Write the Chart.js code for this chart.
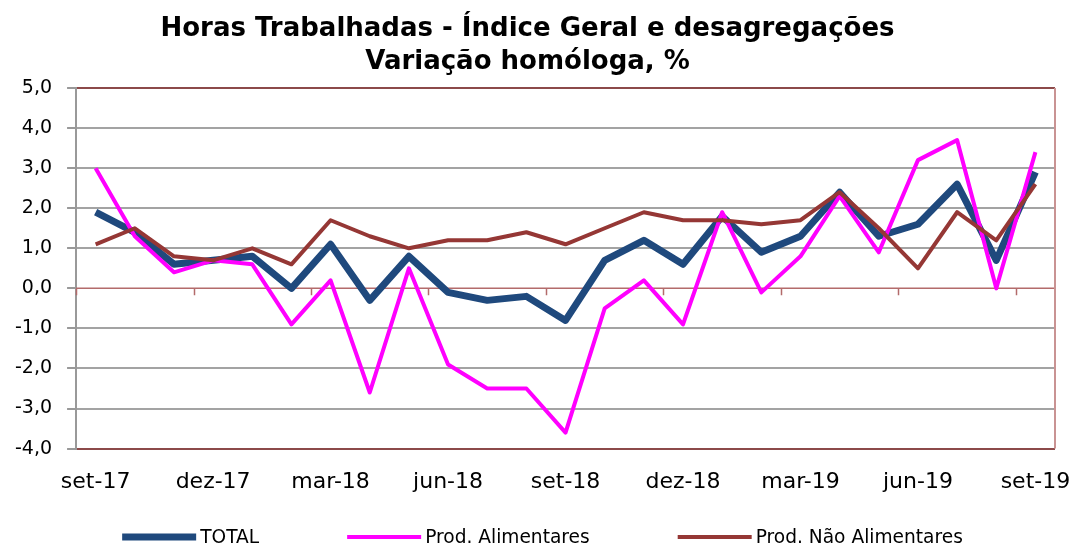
<!DOCTYPE html>
<html>
<head>
<meta charset="utf-8">
<script src="https://cdn.jsdelivr.net/npm/chart.js@4"></script>
<style>
  html, body { margin: 0; padding: 0; background: #fff; }
  #wrap { width: 1073px; height: 547px; }
</style>
</head>
<body>
<div id="wrap"><canvas id="horasChart" width="1073" height="547"></canvas></div>
<script>
// Meses (set-17 a set-19)
const meses = ['set-17', 'out-17', 'nov-17', 'dez-17', 'jan-18', 'fev-18', 'mar-18', 'abr-18', 'mai-18',
  'jun-18', 'jul-18', 'ago-18', 'set-18', 'out-18', 'nov-18', 'dez-18', 'jan-19', 'fev-19', 'mar-19',
  'abr-19', 'mai-19', 'jun-19', 'jul-19', 'ago-19', 'set-19'];

// Variação homóloga, %
const total = [1.9, 1.4, 0.6, 0.7, 0.8, 0.0, 1.1, -0.3, 0.8, -0.1, -0.3, -0.2, -0.8, 0.7, 1.2, 0.6,
  1.8, 0.9, 1.3, 2.4, 1.3, 1.6, 2.6, 0.7, 2.9];
const alimentares = [3.0, 1.3, 0.4, 0.7, 0.6, -0.9, 0.2, -2.6, 0.5, -1.9, -2.5, -2.5, -3.6, -0.5, 0.2, -0.9,
  1.9, -0.1, 0.8, 2.3, 0.9, 3.2, 3.7, 0.0, 3.4];
const naoAlimentares = [1.1, 1.5, 0.8, 0.7, 1.0, 0.6, 1.7, 1.3, 1.0, 1.2, 1.2, 1.4, 1.1, 1.5, 1.9, 1.7,
  1.7, 1.6, 1.7, 2.4, 1.5, 0.5, 1.9, 1.2, 2.6];

const FONTE = "'DejaVu Sans', Verdana, sans-serif";

// moldura da área do gráfico: linha do zero com marcas e borda direita
const molduraPlugin = {
  id: 'moldura',
  beforeDatasetsDraw(chart) {
    const {ctx, chartArea, scales} = chart;
    const x = scales.x, y = scales.y;
    const y0 = y.getPixelForValue(0);
    const meia = (x.getPixelForValue(1) - x.getPixelForValue(0)) / 2;
    ctx.save();
    ctx.strokeStyle = '#b36b6b';
    ctx.lineWidth = 1.5;
    ctx.beginPath();
    ctx.moveTo(chartArea.left, y0);
    ctx.lineTo(chartArea.right, y0);
    for (let k = 0; k < meses.length; k += 3) {
      const px = Math.round(x.getPixelForValue(k) - meia) + 0.5;
      ctx.moveTo(px, y0);
      ctx.lineTo(px, y0 + 7);
    }
    ctx.stroke();
    ctx.strokeStyle = '#c99393';
    ctx.lineWidth = 2;
    ctx.beginPath();
    ctx.moveTo(chartArea.right, chartArea.top);
    ctx.lineTo(chartArea.right, chartArea.bottom);
    ctx.stroke();
    ctx.restore();
  }
};

// legenda desenhada à mão (amostras de linha longas, espaçamento largo)
const legendaPlugin = {
  id: 'legendaLinhas',
  afterDraw(chart) {
    const {ctx} = chart;
    const amostra = 74, folga = 4, espaco = 88;
    ctx.save();
    ctx.font = '18.6px ' + FONTE;
    const itens = chart.data.datasets.map(ds => ({
      ds, w: amostra + folga + ctx.measureText(ds.label).width
    }));
    const largura = itens.reduce((s, it) => s + it.w, 0) + espaco * (itens.length - 1);
    let x = chart.width / 2 + 6 - largura / 2;
    const yc = 537;
    itens.forEach(it => {
      ctx.strokeStyle = it.ds.borderColor;
      ctx.lineWidth = it.ds.borderWidth;
      ctx.beginPath();
      ctx.moveTo(x, yc);
      ctx.lineTo(x + amostra, yc);
      ctx.stroke();
      ctx.fillStyle = '#000';
      ctx.textBaseline = 'middle';
      ctx.fillText(it.ds.label, x + amostra + folga, yc + 1);
      x += it.w + espaco;
    });
    ctx.restore();
  }
};

document.addEventListener('DOMContentLoaded', function() {
  const ctx = document.getElementById('horasChart').getContext('2d');
  new Chart(ctx, {
    type: 'line',
    data: {
      labels: meses,
      datasets: [
        { label: 'TOTAL', data: total, borderColor: '#1F497D', backgroundColor: '#1F497D',
          borderWidth: 7, order: 3 },
        { label: 'Prod. Alimentares', data: alimentares, borderColor: '#FF00FF', backgroundColor: '#FF00FF',
          borderWidth: 4, order: 2 },
        { label: 'Prod. Não Alimentares', data: naoAlimentares, borderColor: '#953735', backgroundColor: '#953735',
          borderWidth: 4, order: 1 }
      ]
    },
    options: {
      responsive: false,
      animation: false,
      layout: { padding: { left: 0, right: 18, top: 4, bottom: 32 } },
      elements: {
        point: { radius: 0, hoverRadius: 0 },
        line: { tension: 0, fill: false, borderJoinStyle: 'round', borderCapStyle: 'butt' }
      },
      plugins: {
        legend: { display: false },
        tooltip: { enabled: false },
        title: {
          display: true,
          text: ['Horas Trabalhadas - Índice Geral e desagregações', 'Variação homóloga, %'],
          color: '#000',
          font: { family: FONTE, size: 26, weight: 'bold', lineHeight: 1.27 },
          padding: { top: 9, bottom: 9 }
        }
      },
      scales: {
        x: {
          offset: true,
          grid: { display: false, drawTicks: false },
          border: { display: false },
          afterFit: s => { s.paddingLeft = 0; s.paddingRight = 0; },
          ticks: {
            autoSkip: false,
            maxRotation: 0,
            padding: 20,
            color: '#000',
            font: { family: FONTE, size: 22 },
            callback: function(v, i) { return i % 3 === 0 ? meses[i] : ''; }
          }
        },
        y: {
          min: -4,
          max: 5,
          border: { color: '#999', width: 2 },
          grid: {
            tickLength: 9,
            tickColor: '#999',
            color: c => (c.tick.value === 5 || c.tick.value === -4) ? '#8c4a4a' :
                        (c.tick.value === 0 ? 'rgba(0,0,0,0)' : '#a3a3a3'),
            lineWidth: 2
          },
          ticks: {
            stepSize: 1,
            padding: 15,
            color: '#000',
            font: { family: FONTE, size: 19 },
            callback: v => v.toFixed(1).replace('.', ',')
          }
        }
      }
    },
    plugins: [molduraPlugin, legendaPlugin]
  });
});
</script>
</body>
</html>
